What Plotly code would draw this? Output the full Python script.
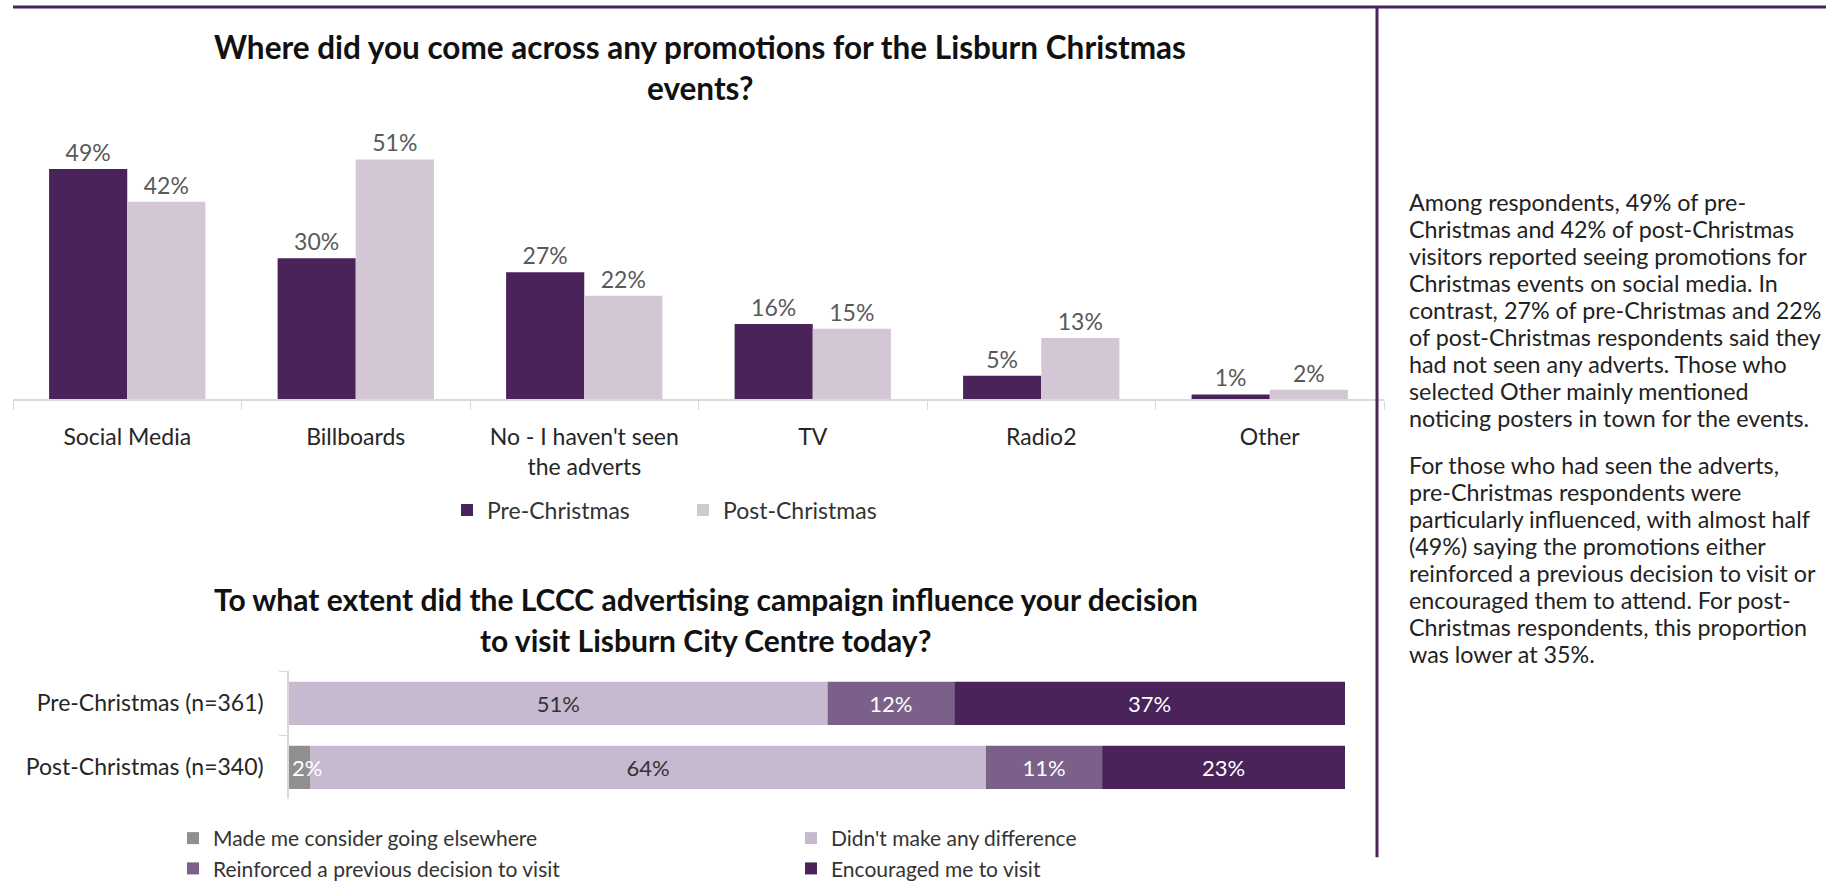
import numpy as np
import plotly.graph_objects as go

# ---- data -------------------------------------------------------------
channels = ["Social Media", "Billboards", "No - I haven't seen<br>the adverts",
            "TV", "Radio2", "Other"]
pre_christmas = [49, 30, 27, 16, 5, 1]
post_christmas = [42, 51, 22, 15, 13, 2]

groups = ["Pre-Christmas (n=361)", "Post-Christmas (n=340)"]
influence_labels = ["Made me consider going elsewhere", "Didn't make any difference",
                    "Reinforced a previous decision to visit", "Encouraged me to visit"]
made_me_consider = [0, 2]
no_difference = [51, 64]
reinforced = [12, 11]
encouraged = [37, 23]

title_top = ["Where did you come across any promotions for the Lisburn Christmas", "events?"]
title_bottom = ["To what extent did the LCCC advertising campaign influence your decision",
                "to visit Lisburn City Centre today?"]

para_one = ["Among respondents, 49% of pre-",
            "Christmas and 42% of post-Christmas",
            "visitors reported seeing promotions for",
            "Christmas events on social media. In",
            "contrast, 27% of pre-Christmas and 22%",
            "of post-Christmas respondents said they",
            "had not seen any adverts. Those who",
            "selected Other mainly mentioned",
            "noticing posters in town for the events."]
para_two = ["For those who had seen the adverts,",
            "pre-Christmas respondents were",
            "particularly influenced, with almost half",
            "(49%) saying the promotions either",
            "reinforced a previous decision to visit or",
            "encouraged them to attend. For post-",
            "Christmas respondents, this proportion",
            "was lower at 35%."]

# ---- styling ----------------------------------------------------------
W, H = 1826, 889
FONT = "Lato"
DARK = "#4A235A"
LIGHT = "#D3C7D6"
seg_colors = ["#8F8F8F", "#C7B9CF", "#7B6189", DARK]
seg_text = ["white", "#333333", "white", "white"]
seg_anchor = ["start", "middle", "middle", "middle"]


def fx(px):
    return px / W


def fy(py):
    return 1 - py / H


fig = go.Figure()

# grouped column chart (explicit offsets so the stacked chart can share barmode)
bw = 0.342
for name, vals, col, off in [("Pre-Christmas", pre_christmas, DARK, -bw),
                             ("Post-Christmas", post_christmas, LIGHT, 0.0)]:
    fig.add_trace(go.Bar(
        x=channels, y=vals, name=name, marker_color=col, marker_line_width=0,
        width=bw, offset=off, xaxis="x", yaxis="y", legend="legend",
        text=[f"{v}%" for v in vals], textposition="outside", cliponaxis=False,
        textfont=dict(family=FONT, size=23, color="#595959"),
        constraintext="none", hoverinfo="skip"))

# stacked horizontal bars, bases from the running total; the narrow first
# segment is drawn last so its overflowing label stays on top
segments = [made_me_consider, no_difference, reinforced, encouraged]
bases = np.vstack([np.zeros(len(groups)), np.cumsum(segments, axis=0)[:-1]])
for i in [1, 2, 3, 0]:
    vals = segments[i]
    fig.add_trace(go.Bar(
        y=groups, x=vals, base=bases[i], name=influence_labels[i], orientation="h",
        marker_color=seg_colors[i], marker_line_width=0, width=0.677,
        xaxis="x2", yaxis="y2", legend="legend2", legendrank=i + 1,
        text=[f"{v}%" if v > 0 else "" for v in vals],
        textposition="inside", insidetextanchor=seg_anchor[i], constraintext="none",
        textangle=0,
        textfont=dict(family=FONT, size=22, color=seg_text[i]),
        hoverinfo="skip"))

annotations = []
for k, line in enumerate(title_top):
    annotations.append(dict(text=f"<b>{line}</b>", x=fx(700), y=fy(48 + 42 * k),
                            xref="paper", yref="paper", showarrow=False,
                            xanchor="center", yanchor="middle",
                            font=dict(family=FONT, size=31.5, color="#111111")))
for k, line in enumerate(title_bottom):
    annotations.append(dict(text=f"<b>{line}</b>", x=fx(706), y=fy(609 + 42 * k),
                            xref="paper", yref="paper", showarrow=False,
                            xanchor="center", yanchor="middle",
                            font=dict(family=FONT, size=30, color="#111111")))
for start, lines in [(205, para_one), (473, para_two)]:
    for k, line in enumerate(lines):
        annotations.append(dict(text=line, x=fx(1407), y=fy(start + 27.5 * k),
                                xref="paper", yref="paper", showarrow=False,
                                xanchor="left", yanchor="middle", align="left",
                                font=dict(family=FONT, size=23.3, color="#222222")))

shapes = [
    dict(type="line", xref="paper", yref="paper", x0=fx(13), x1=1, y0=fy(7), y1=fy(7),
         line=dict(color=DARK, width=3)),
    dict(type="line", xref="paper", yref="paper", x0=fx(1377), x1=fx(1377),
         y0=fy(7), y1=fy(872), line=dict(color=DARK, width=3)),
]

fig.update_layout(
    width=W, height=H, margin=dict(l=0, r=0, t=0, b=0),
    paper_bgcolor="white", plot_bgcolor="white",
    barmode="overlay", showlegend=True,
    font=dict(family=FONT, color="#333333"),
    xaxis=dict(domain=[fx(13), fx(1384)], type="category", showline=True,
               linecolor="#D9D9D9", linewidth=1.5, ticks="outside",
               tickson="boundaries", ticklen=9, tickcolor="#D9D9D9",
               tickfont=dict(family=FONT, size=23, color="#262626"),
               ticklabelstandoff=17, showgrid=False, fixedrange=True),
    yaxis=dict(domain=[fy(406), fy(406 - 60 * 4.78)], range=[0, 60], visible=False,
               fixedrange=True),
    xaxis2=dict(domain=[fx(289), fx(1345)], range=[0, 100], visible=False,
                anchor="y2", fixedrange=True),
    yaxis2=dict(domain=[fy(813), fy(683)], type="category", autorange="reversed",
                anchor="x2", showline=True, linecolor="#D9D9D9", linewidth=1.5,
                ticks="outside", tickson="boundaries", ticklen=8,
                tickcolor="#D9D9D9", ticklabelstandoff=19,
                tickfont=dict(family=FONT, size=23, color="#262626"),
                showgrid=False, fixedrange=True),
    legend=dict(orientation="h", x=fx(447), y=fy(497), xanchor="left", yanchor="top",
                entrywidth=191, font=dict(family=FONT, size=23, color="#333333"),
                bgcolor="rgba(0,0,0,0)", traceorder="normal"),
    legend2=dict(orientation="h", x=fx(173), y=fy(832), xanchor="left", yanchor="top",
                 entrywidth=573, font=dict(family=FONT, size=21, color="#333333"),
                 bgcolor="rgba(0,0,0,0)", traceorder="normal"),
    annotations=annotations, shapes=shapes,
)

fig.write_html("out.html")
